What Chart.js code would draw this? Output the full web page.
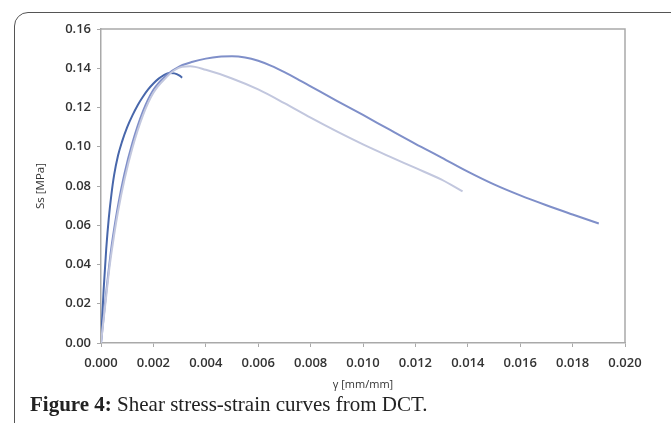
<!DOCTYPE html>
<html>
<head>
<meta charset="utf-8">
<script src="https://cdn.jsdelivr.net/npm/chart.js@4"></script>
<style>
  html, body { margin: 0; padding: 0; background: #fff; }
  body { width: 671px; height: 423px; position: relative; overflow: hidden; }
  #card { position: absolute; left: 14px; top: 12px; width: 680px; height: 440px;
          border: 1.5px solid #555; border-radius: 14px; box-sizing: border-box; }
  #wrap { position: absolute; left: 0; top: 0; width: 671px; height: 395px; }
  #caption { position: absolute; left: 30px; top: 392px; font-family: "Liberation Serif", serif;
             font-size: 21px; color: #222; white-space: nowrap; }
</style>
</head>
<body>
<div id="card"></div>
<div id="wrap"><canvas id="chart"></canvas></div>
<div id="caption"><b>Figure 4:</b> Shear stress-strain curves from DCT.</div>
<script>
// specimen 1 (dark)
const strain1 = [0, 0.00005, 0.0001, 0.0002, 0.0003, 0.0004, 0.0005, 0.00065, 0.0008, 0.001, 0.0012, 0.0014, 0.0016, 0.0018, 0.002, 0.0022, 0.0024, 0.0026, 0.0028, 0.003, 0.0031];
const stress1 = [0, 0.014, 0.027, 0.048, 0.064, 0.076, 0.0855, 0.0955, 0.1025, 0.110, 0.116, 0.1212, 0.1255, 0.1292, 0.1322, 0.1347, 0.1365, 0.1376, 0.1374, 0.1362, 0.1352];

// specimen 2 (medium)
const strain2 = [0, 0.0001, 0.0002, 0.0003, 0.0004, 0.0005, 0.00065, 0.0009, 0.0012, 0.0016, 0.002, 0.0025, 0.003, 0.0035, 0.004, 0.0045, 0.005, 0.0055, 0.006, 0.0065, 0.007, 0.0075, 0.008, 0.009, 0.010, 0.011, 0.012, 0.013, 0.014, 0.015, 0.016, 0.017, 0.018, 0.019];
const stress2 = [0, 0.013, 0.026, 0.038, 0.049, 0.058, 0.070, 0.0865, 0.102, 0.118, 0.129, 0.1365, 0.141, 0.1433, 0.1449, 0.1459, 0.1461, 0.1455, 0.1438, 0.1412, 0.138, 0.1345, 0.1308, 0.1234, 0.1162, 0.1088, 0.1015, 0.0945, 0.0873, 0.0808, 0.0752, 0.0702, 0.0655, 0.0609];

// specimen 3 (light)
const strain3 = [0, 0.0001, 0.0002, 0.0003, 0.0004, 0.0005, 0.00065, 0.0009, 0.0012, 0.0016, 0.002, 0.0025, 0.0028, 0.0031, 0.0034, 0.004, 0.005, 0.006, 0.007, 0.008, 0.009, 0.010, 0.011, 0.012, 0.013, 0.0138];
const stress3 = [0, 0.012, 0.024, 0.036, 0.046, 0.055, 0.067, 0.0835, 0.0995, 0.116, 0.1275, 0.1355, 0.139, 0.1408, 0.141, 0.1392, 0.1348, 0.1292, 0.1222, 0.1148, 0.1078, 0.1012, 0.0951, 0.0892, 0.0832, 0.0772];

const colors = ["#4867ab", "#7f8fc9", "#c2c7de"];

function pts(xs, ys) {
  return xs.map((x, i) => ({ x: x, y: ys[i] }));
}

const frame = {
  id: 'frame',
  afterDatasetsDraw(chart) {
    const a = chart.chartArea, c = chart.ctx;
    c.save();
    c.strokeStyle = '#a9a9a9';
    c.lineWidth = 1.5;
    c.beginPath();
    c.moveTo(a.left, a.top);
    c.lineTo(a.right, a.top);
    c.lineTo(a.right, a.bottom);
    c.stroke();
    c.restore();
  }
};

const tickFont = { family: "Open Sans", size: 13, weight: 600 };

new Chart(document.getElementById("chart"), {
  type: 'scatter',
  data: {
    datasets: [
      { data: pts(strain3, stress3), borderColor: colors[2] },
      { data: pts(strain2, stress2), borderColor: colors[1] },
      { data: pts(strain1, stress1), borderColor: colors[0] }
    ].map(d => Object.assign(d, { showLine: true, pointRadius: 0, borderWidth: 2, cubicInterpolationMode: 'monotone' }))
  },
  options: {
    responsive: true,
    maintainAspectRatio: false,
    animation: false,
    layout: { padding: { left: 30, right: 46, top: 29, bottom: 0 } },
    plugins: { legend: { display: false }, tooltip: { enabled: false } },
    scales: {
      x: {
        type: 'linear', min: 0, max: 0.02,
        ticks: { stepSize: 0.002, color: '#333', font: tickFont, padding: 8, maxRotation: 0,
                 callback: v => v.toFixed(3) },
        grid: { drawOnChartArea: false, drawTicks: true, tickLength: 4, color: '#a9a9a9' },
        border: { color: '#a9a9a9', width: 1.5 },
        title: { display: true, text: 'γ [mm/mm]', color: '#333', font: { family: "Open Sans", size: 11 }, padding: { top: 4 } },
        afterFit: s => { s.height = 52; }
      },
      y: {
        type: 'linear', min: 0, max: 0.16,
        ticks: { stepSize: 0.02, color: '#333', font: tickFont, padding: 6,
                 callback: v => v.toFixed(2) },
        grid: { drawOnChartArea: false, drawTicks: true, tickLength: 4, color: '#a9a9a9' },
        border: { color: '#a9a9a9', width: 1.5 },
        title: { display: true, text: 'Ss [MPa]', color: '#333', font: { family: "Open Sans", size: 11.5 } },
        afterFit: s => { s.width = 71; }
      }
    }
  },
  plugins: [frame]
});
</script>
</body>
</html>
